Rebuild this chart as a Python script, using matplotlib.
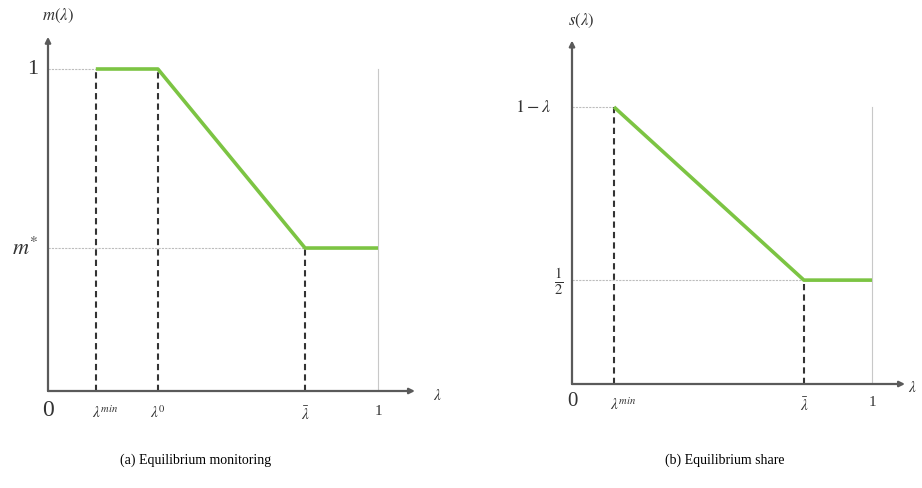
import matplotlib.pyplot as plt

plt.rcParams['mathtext.fontset'] = 'stix'
plt.rcParams['font.family'] = ['Liberation Serif', 'DejaVu Serif']

# panel (a): equilibrium monitoring m(lambda)
a_x = [0.145, 0.333, 0.779, 1.0]      # lambda_min, lambda_0, lambda_bar, 1
a_y = [1.0, 1.0, 0.444, 0.444]        # 1, 1, m*, m*
a_ticks_x = [r'$\lambda^{min}$', r'$\lambda^{0}$', r'$\bar{\lambda}$', '1']
a_ticks_y = ['1', r'$m^{*}$']

# panel (b): equilibrium share s(lambda)
b_x = [0.14, 0.773, 1.0]              # lambda_min, lambda_bar, 1
b_y = [1.0, 0.375, 0.375]             # 1-lambda, 1/2, 1/2
b_ticks_x = [r'$\lambda^{min}$', r'$\bar{\lambda}$', '1']
b_ticks_y = [r'$1-\lambda$', r'$\frac{1}{2}$']

W, H = 922, 489
fig = plt.figure(figsize=(W / 100, H / 100), dpi=100)

GREEN = '#7cc443'
AXC = '#5a5a5a'
TXT = '#333333'


def panel(x0, y0, sx, sy, xmax, ymax, xs, ys, xlabels, ylabels, ylab,
          ylab_size, zero_size, ypads, vdash_idx, lam_dx):
    # axes placed so that data (0,0) sits at pixel (x0, y0)
    ax = fig.add_axes([x0 / W, 1 - y0 / H, xmax * sx / W, ymax * sy / H])
    ax.set_xlim(0, xmax)
    ax.set_ylim(0, ymax)
    ax.axis('off')
    # arrows for the axes
    for tip in [(xmax, 0), (0, ymax)]:
        ax.annotate('', xy=tip, xytext=(0, 0),
                    arrowprops=dict(arrowstyle='-|>', color=AXC, lw=1.6,
                                    shrinkA=0, shrinkB=0, mutation_scale=8))
    # light guides
    top = max(ys)
    low = min(ys)
    ax.plot([0, xs[0]], [top, top], color='#bdbdbd', lw=0.8, ls=(0, (2, 1)))
    ax.plot([0, xs[-2]], [low, low], color='#bdbdbd', lw=0.8, ls=(0, (2, 1)))
    ax.plot([xs[-1], xs[-1]], [0, top], color='#c8c8c8', lw=0.8)
    # dashed drop lines
    for i in vdash_idx:
        ax.plot([xs[i], xs[i]], [0, ys[i]], color=TXT, lw=1.5,
                ls=(0, (3, 2)))
    ax.plot(xs, ys, color=GREEN, lw=2.6, solid_capstyle='butt', zorder=5)
    # tick labels on x
    tick_x = [x for x in xs[:-1]] + [1.0]
    for x, lab in zip(tick_x, xlabels):
        ax.text(x + (0.03 if 'min' in lab else 0), -0.04, lab, ha='center',
                va='top', fontsize=11, color=TXT)
    ax.text(0, -0.025, '0', ha='center', va='top', fontsize=zero_size,
            color=TXT)
    ax.text(xmax + lam_dx, -0.01, r'$\lambda$', ha='left', va='center',
            fontsize=11, color=TXT)
    ax.text(0.03, ymax + 0.04, ylab, ha='center', va='bottom', fontsize=12,
            color=TXT)
    for yv, lab, fs, pad in zip([top, low], ylabels, ylab_size, ypads):
        ax.text(-pad, yv, lab, ha='right', va='center', fontsize=fs,
                color=TXT)
    return ax


panel(48, 392, 330, 322, 1.112, 1.10, a_x, a_y, a_ticks_x, a_ticks_y,
      r'$m(\lambda)$', [16, 16], 17, [0.03, 0.03], [0, 1, 2], 0.055)
panel(572, 385, 300, 277, 1.11, 1.24, b_x, b_y, b_ticks_x, b_ticks_y,
      r'$s(\lambda)$', [13, 15], 15, [0.07, 0.03], [0, 1], 0.01)

fig.text(196 / W, 1 - 460 / H, '(a) Equilibrium monitoring', ha='center',
         va='center', fontsize=10)
fig.text(725 / W, 1 - 460 / H, '(b) Equilibrium share', ha='center',
         va='center', fontsize=10)

fig.savefig('out.png', dpi=100)
